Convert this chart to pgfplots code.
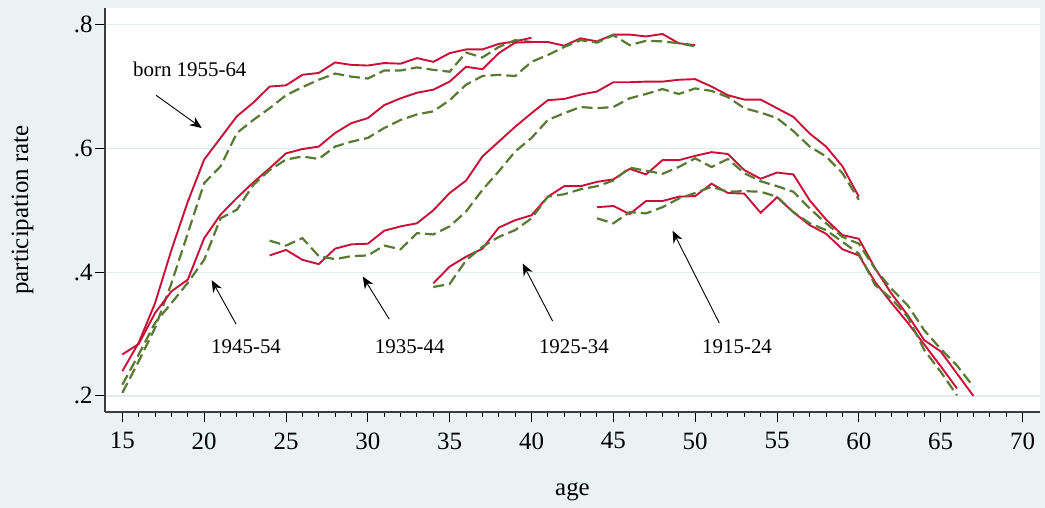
\documentclass[border=0pt]{standalone}
\usepackage{pgfplots}
\pgfplotsset{compat=1.18}
\usepackage{pgfplotstable}
\usepackage{fontspec}
\setmainfont{Liberation Serif}
\usetikzlibrary{arrows.meta}
\definecolor{bgc}{RGB}{234,242,243}
\definecolor{gridc}{RGB}{226,236,239}
\definecolor{redc}{RGB}{200,16,56}
\definecolor{grnc}{RGB}{88,122,50}
\definecolor{axc}{RGB}{60,60,60}
\pgfplotstableread{
age r g
15 0.240 0.205
16 0.286 0.256
17 0.350 0.310
18 0.436 0.382
19 0.514 0.463
20 0.582 0.544
21 0.617 0.571
22 0.652 0.625
23 0.674 0.646
24 0.700 0.665
25 0.702 0.686
26 0.719 0.699
27 0.722 0.711
28 0.739 0.721
29 0.735 0.716
30 0.734 0.713
31 0.738 0.726
32 0.737 0.726
33 0.746 0.731
34 0.740 0.727
35 0.754 0.724
36 0.760 0.755
37 0.760 0.747
38 0.769 0.764
39 0.773 0.775
40 0.779 0.772
}\cA
\pgfplotstableread{
age r g
15 0.267 0.218
16 0.284 0.267
17 0.334 0.318
18 0.369 0.350
19 0.388 0.383
20 0.455 0.420
21 0.493 0.487
22 0.520 0.501
23 0.545 0.541
24 0.568 0.565
25 0.592 0.582
26 0.599 0.587
27 0.603 0.583
28 0.625 0.603
29 0.641 0.611
30 0.649 0.617
31 0.670 0.633
32 0.681 0.646
33 0.690 0.655
34 0.695 0.660
35 0.708 0.678
36 0.732 0.703
37 0.728 0.717
38 0.754 0.719
39 0.771 0.717
40 0.772 0.740
41 0.772 0.751
42 0.766 0.764
43 0.778 0.775
44 0.773 0.771
45 0.784 0.783
46 0.784 0.767
47 0.781 0.774
48 0.785 0.773
49 0.770 0.770
50 0.767 0.765
}\cB
\pgfplotstableread{
age r g
24 0.427 0.451
25 0.436 0.443
26 0.420 0.455
27 0.413 0.426
28 0.438 0.421
29 0.445 0.426
30 0.446 0.427
31 0.467 0.443
32 0.474 0.437
33 0.479 0.463
34 0.500 0.461
35 0.528 0.474
36 0.548 0.498
37 0.587 0.533
38 0.611 0.563
39 0.635 0.595
40 0.657 0.617
41 0.678 0.646
42 0.680 0.657
43 0.687 0.667
44 0.692 0.665
45 0.707 0.667
46 0.707 0.681
47 0.708 0.688
48 0.708 0.696
49 0.711 0.688
50 0.712 0.697
51 0.700 0.693
52 0.686 0.683
53 0.679 0.665
54 0.679 0.658
55 0.665 0.649
56 0.651 0.628
57 0.624 0.603
58 0.603 0.587
59 0.571 0.560
60 0.522 0.517
}\cC
\pgfplotstableread{
age r g
34 0.382 0.376
35 0.409 0.381
36 0.425 0.419
37 0.438 0.441
38 0.472 0.457
39 0.484 0.468
40 0.492 0.487
41 0.522 0.522
42 0.539 0.526
43 0.539 0.534
44 0.546 0.539
45 0.550 0.548
46 0.567 0.569
47 0.558 0.564
48 0.581 0.559
49 0.581 0.570
50 0.588 0.584
51 0.594 0.570
52 0.591 0.583
53 0.565 0.560
54 0.551 0.547
55 0.561 0.539
56 0.558 0.530
57 0.516 0.503
58 0.485 0.479
59 0.460 0.457
60 0.454 0.446
61 0.406 0.405
62 0.365 0.373
63 0.330 0.346
64 0.290 0.306
65 0.272 0.276
66 0.236 0.249
67 0.200 0.215
}\cD
\pgfplotstableread{
age r g
44 0.505 0.487
45 0.507 0.479
46 0.494 0.497
47 0.515 0.495
48 0.515 0.505
49 0.522 0.519
50 0.523 0.528
51 0.543 0.538
52 0.528 0.530
53 0.527 0.531
54 0.496 0.530
55 0.521 0.522
56 0.497 0.497
57 0.476 0.479
58 0.462 0.468
59 0.437 0.449
60 0.427 0.430
61 0.384 0.379
62 0.350 0.357
63 0.318 0.327
64 0.283 0.274
65 0.248 0.239
66 0.212 0.201
}\cE
\begin{document}
\begin{tikzpicture}
\fill[bgc] (0,0) rectangle (1045bp,508bp);
\begin{axis}[
  at={(105bp,96bp)}, anchor=south west,
  scale only axis, width=935bp, height=404bp,
  xmin=13.94, xmax=71.07, ymin=0.174, ymax=0.827,
  axis background/.style={fill=white},
  axis x line*=bottom, axis y line*=left,
  axis line style={axc, line width=1.3bp, -},
  xtick={15,20,...,70}, minor x tick num=4,
  ytick={0.2,0.4,0.6,0.8}, yticklabels={.2,.4,.6,.8},
  tick align=outside, major tick length=10bp, minor tick length=5bp,
  tick style={black, line width=1bp},
  ymajorgrids, grid style={gridc, line width=1.3bp},
  /pgf/number format/assume math mode=true,
  ticklabel style={font=\fontsize{25}{29}\selectfont},
  xticklabel style={yshift=-7bp},
  yticklabel style={xshift=1bp},
  label style={font=\fontsize{25}{30}\selectfont},
  xlabel={age}, ylabel={participation rate},
  xlabel style={at={(axis description cs:0.5,0)}, anchor=center, yshift=-80bp},
  ylabel style={at={(axis description cs:-0.0882,0.5)}, anchor=center},
  clip=false,
  rstyle/.style={redc, line width=1.9bp, no marks},
  gstyle/.style={grnc, line width=2.2bp, no marks, dash pattern=on 11bp off 5bp},
]
\addplot[rstyle] table[x=age,y=r] {\cA};
\addplot[gstyle] table[x=age,y=g] {\cA};
\addplot[rstyle] table[x=age,y=r] {\cB};
\addplot[gstyle] table[x=age,y=g] {\cB};
\addplot[rstyle] table[x=age,y=r] {\cC};
\addplot[gstyle] table[x=age,y=g] {\cC};
\addplot[rstyle] table[x=age,y=r] {\cD};
\addplot[gstyle] table[x=age,y=g] {\cD};
\addplot[rstyle] table[x=age,y=r] {\cE};
\addplot[gstyle] table[x=age,y=g] {\cE};
\begin{scope}[every node/.style={font=\fontsize{21}{25}\selectfont, text=black}]
\node at (axis cs:19.12,0.728) {born 1955-64};
\node at (axis cs:22.56,0.280) {1945-54};
\node at (axis cs:32.56,0.280) {1935-44};
\node at (axis cs:42.59,0.280) {1925-34};
\node at (axis cs:52.56,0.280) {1915-24};
\end{scope}
\begin{scope}[-{Stealth[length=12bp,width=10bp]}, black, line width=0.9bp]
\draw (axis cs:17.06,0.686) -- (axis cs:19.85,0.633);
\draw (axis cs:21.95,0.316) -- (axis cs:20.46,0.387);
\draw (axis cs:31.31,0.324) -- (axis cs:29.69,0.393);
\draw (axis cs:41.29,0.321) -- (axis cs:39.46,0.414);
\draw (axis cs:51.47,0.318) -- (axis cs:48.62,0.467);
\end{scope}
\end{axis}
\end{tikzpicture}
\end{document}
